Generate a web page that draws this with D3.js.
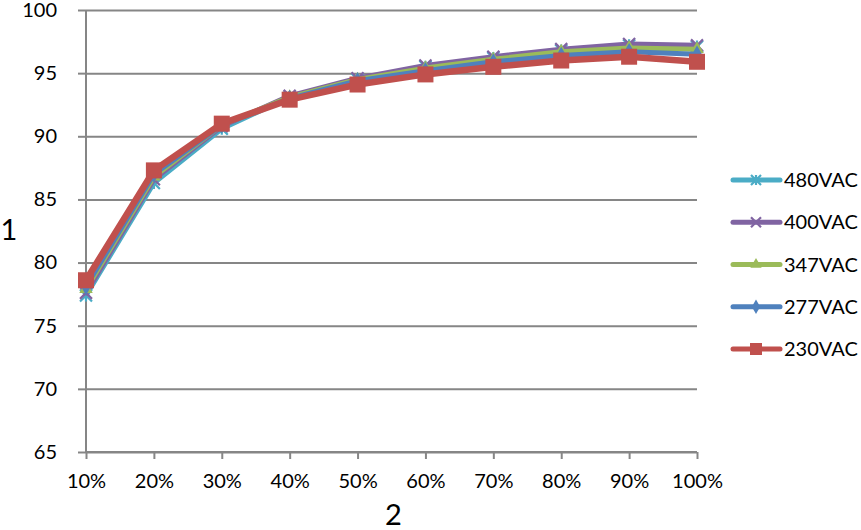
<!DOCTYPE html>
<html>
<head>
<meta charset="utf-8">
<script src="https://cdn.jsdelivr.net/npm/d3@7"></script>
<style>
  body { margin: 0; background: #fff; }
  svg text { font-family: Lato, "Open Sans", sans-serif; fill: #000; }
</style>
</head>
<body>
<svg width="861" height="530"></svg>
<script>
  const loads = ["10%", "20%", "30%", "40%", "50%", "60%", "70%", "80%", "90%", "100%"];
  const yTicks = [65, 70, 75, 80, 85, 90, 95, 100];
  const seriesNames = ["480VAC", "400VAC", "347VAC", "277VAC", "230VAC"];
  const v480 = [77.4, 86.3, 90.6, 93.1, 94.5, 95.5, 96.2, 96.8, 97.2, 97.1];
  const v400 = [77.6, 86.6, 90.8, 93.2, 94.6, 95.6, 96.3, 96.9, 97.3, 97.2];
  const v347 = [77.9, 86.8, 90.9, 93.1, 94.5, 95.4, 96.1, 96.7, 97.0, 96.9];
  const v277 = [78.1, 87.0, 90.9, 93.0, 94.4, 95.2, 95.9, 96.4, 96.7, 96.5];
  const v230 = [78.6, 87.3, 91.0, 92.9, 94.1, 94.9, 95.5, 96.0, 96.3, 95.9];

  const colors = ["#4BACC6", "#8064A2", "#9BBB59", "#4F81BD", "#C0504D"];
  const markers = ["asterisk", "x", "triangle", "diamond", "square"];

  const series = seriesNames.map((name, i) => ({
    name,
    values: [v480, v400, v347, v277, v230][i],
    color: colors[i],
    marker: markers[i]
  }));

  const svg = d3.select("svg");
  const margin = { top: 10, right: 164, bottom: 78, left: 86 };
  const width = +svg.attr("width");
  const height = +svg.attr("height");
  const innerWidth = width - margin.left - margin.right;
  const innerHeight = height - margin.top - margin.bottom;

  const xScale = d3.scalePoint().domain(loads).range([0, innerWidth]).padding(0);
  const yScale = d3.scaleLinear().domain([65, 100]).range([innerHeight, 0]);

  const g = svg.append("g").attr("transform", `translate(${margin.left},${margin.top})`);

  // gridlines + y axis
  const yAxis = d3.axisLeft(yScale).tickValues(yTicks).tickSize(8).tickPadding(21);
  const yAxisG = g.append("g").call(yAxis)
    .attr("font-family", null).attr("font-size", null);
  yAxisG.selectAll("line").attr("stroke", "#868686").attr("stroke-width", 2);
  yAxisG.selectAll("text").attr("font-size", 20);
  yAxisG.select(".domain").remove();
  yAxisG.selectAll(".tick")
    .append("line")
    .attr("x1", 0)
    .attr("x2", innerWidth)
    .attr("stroke", "#868686")
    .attr("stroke-width", 2);

  const xAxis = d3.axisBottom(xScale).tickSize(7).tickPadding(15);
  const xAxisG = g.append("g").attr("transform", `translate(0,${innerHeight})`).call(xAxis)
    .attr("font-family", null).attr("font-size", null);
  xAxisG.select(".domain").remove();
  xAxisG.selectAll("line").attr("stroke", "#868686").attr("stroke-width", 2);
  xAxisG.selectAll("text").attr("font-size", 20);

  g.append("line")
    .attr("x1", 0).attr("x2", 0)
    .attr("y1", 0).attr("y2", innerHeight)
    .attr("stroke", "#868686").attr("stroke-width", 2);
  g.append("line")
    .attr("x1", 0).attr("x2", innerWidth)
    .attr("y1", innerHeight).attr("y2", innerHeight)
    .attr("stroke", "#868686").attr("stroke-width", 2);

  // axis titles
  svg.append("text")
    .attr("x", 9).attr("y", 228)
    .attr("text-anchor", "middle")
    .attr("dominant-baseline", "central")
    .attr("font-size", 29)
    .text("1");
  svg.append("text")
    .attr("x", margin.left + innerWidth / 2 + 2).attr("y", 525)
    .attr("text-anchor", "middle")
    .attr("font-size", 29)
    .text("2");

  const drawMarker = (sel, type, color, s) => {
    if (type === "square") {
      sel.append("rect")
        .attr("x", -s / 2).attr("y", -s / 2)
        .attr("width", s).attr("height", s)
        .attr("fill", color);
    } else if (type === "diamond") {
      sel.append("path")
        .attr("d", d3.symbol().type(d3.symbolDiamond).size(s * s * 0.6)())
        .attr("fill", color);
    } else if (type === "triangle") {
      sel.append("path")
        .attr("d", d3.symbol().type(d3.symbolTriangle).size(s * s * 0.55)())
        .attr("fill", color);
    } else {
      const h = s / 2;
      let d = `M${-h},${-h}L${h},${h}M${-h},${h}L${h},${-h}`;
      if (type === "asterisk") d += `M0,${-h}L0,${h}`;
      sel.append("path")
        .attr("d", d)
        .attr("stroke", color)
        .attr("stroke-width", 2.2)
        .attr("fill", "none");
    }
  };

  const lineGen = d3.line()
    .x((d, i) => xScale(loads[i]))
    .y((d) => yScale(d));

  series.forEach((s) => {
    const sg = g.append("g");
    sg.append("path")
      .attr("d", lineGen(s.values))
      .attr("fill", "none")
      .attr("stroke", s.color)
      .attr("stroke-width", s.marker === "square" ? 6.5 : 5)
      .attr("stroke-linejoin", "round")
      .attr("stroke-linecap", "round");
    s.values.forEach((v, i) => {
      const mg = sg.append("g")
        .attr("transform", `translate(${xScale(loads[i])},${yScale(v)})`);
      drawMarker(mg, s.marker, s.color, s.marker === "square" ? 16 : 12);
    });
  });

  // legend
  const legendY = d3.scalePoint().domain(seriesNames).range([180, 349]);
  const legend = svg.append("g");
  series.forEach((s) => {
    const lg = legend.append("g").attr("transform", `translate(0,${legendY(s.name)})`);
    lg.append("line")
      .attr("x1", 733).attr("x2", 780)
      .attr("stroke", s.color)
      .attr("stroke-width", 5)
      .attr("stroke-linecap", "round");
    const mg = lg.append("g").attr("transform", "translate(756,0)");
    drawMarker(mg, s.marker, s.color, s.marker === "square" ? 12 : 10);
    lg.append("text")
      .attr("x", 784)
      .attr("dy", "0.35em")
      .attr("font-size", 20)
      .text(s.name);
  });
</script>
</body>
</html>
